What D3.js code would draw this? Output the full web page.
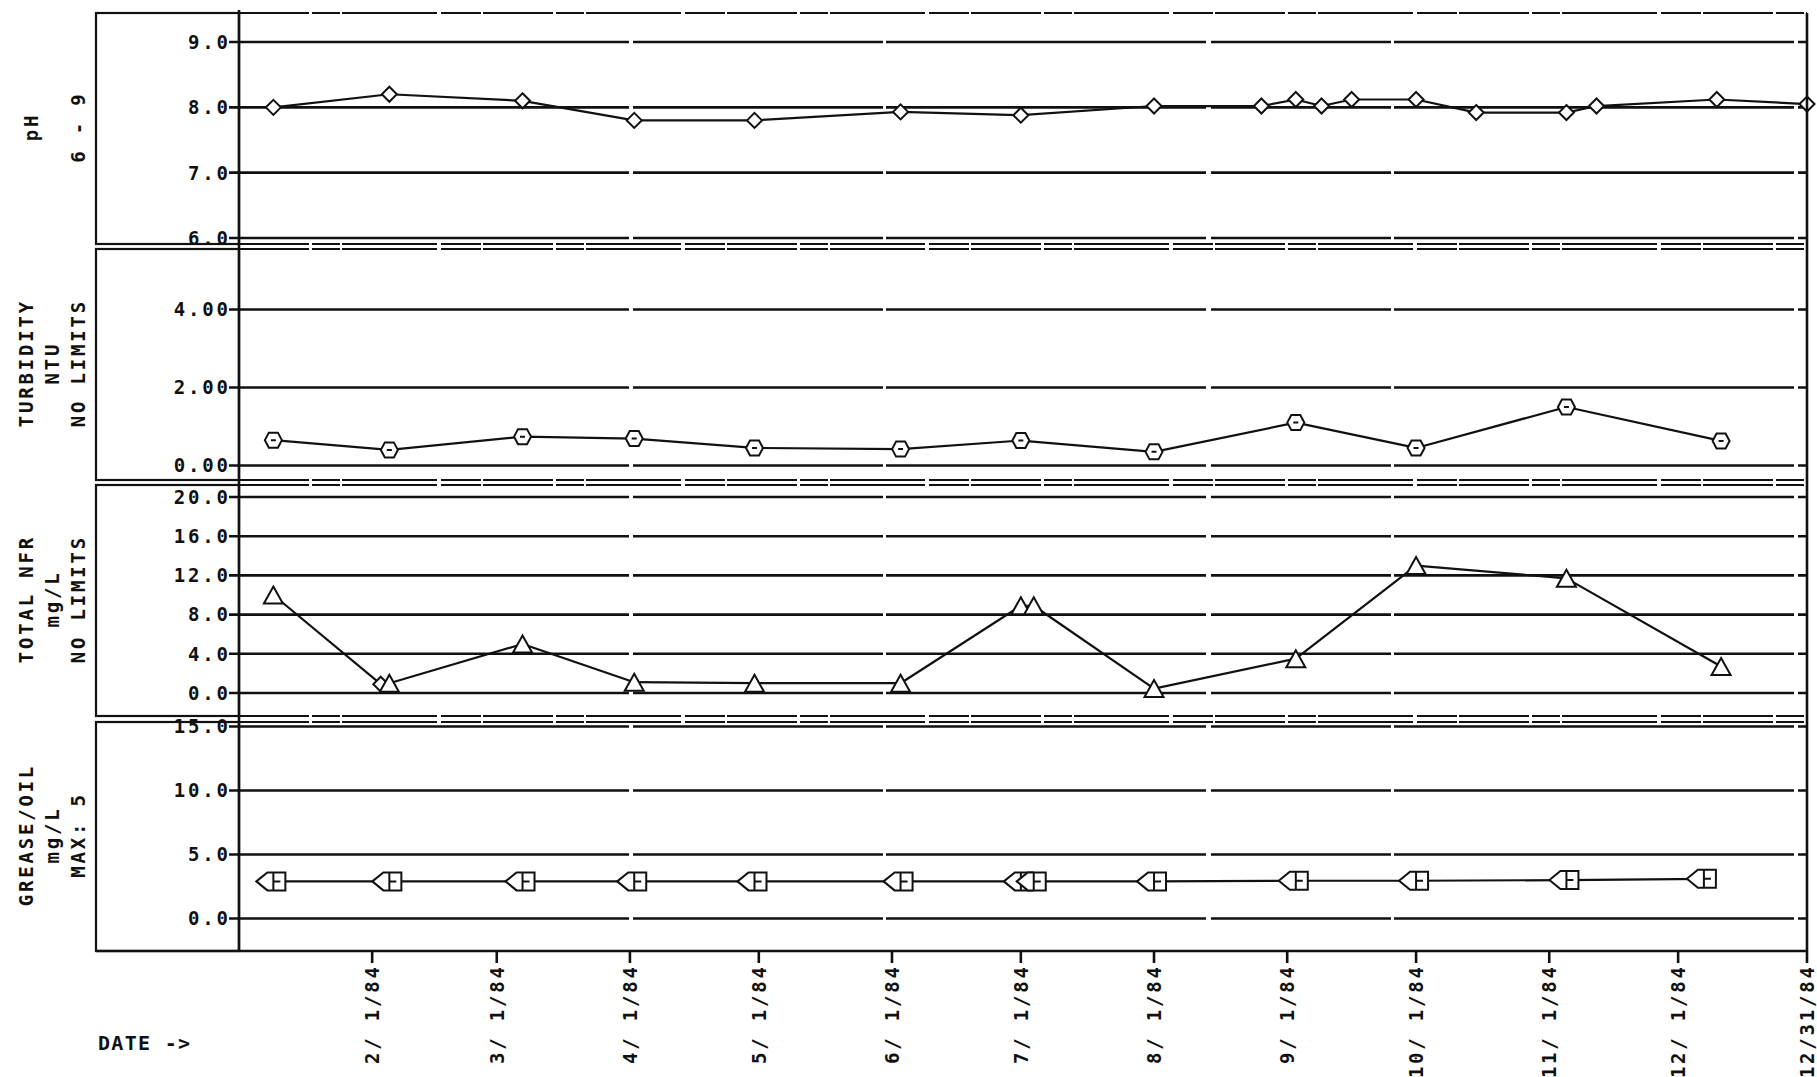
<!DOCTYPE html>
<html>
<head>
<meta charset="utf-8">
<script src="https://cdn.jsdelivr.net/npm/d3@7"></script>
<style>
  html, body { margin: 0; padding: 0; background: #fff; }
  svg { display: block; }
  text { font-family: "DejaVu Sans Mono", "Liberation Mono", monospace; font-weight: bold; fill: #111; }
</style>
</head>
<body>
<svg id="chart" width="1817" height="1077"></svg>
<script>
// ---------------- DATA ----------------
const phDates = ["1984-01-09","1984-02-05","1984-03-07","1984-04-02","1984-04-30","1984-06-03","1984-07-01","1984-08-01","1984-08-26","1984-09-03","1984-09-09","1984-09-16","1984-10-01","1984-10-15","1984-11-05","1984-11-12","1984-12-10","1984-12-31"];
const phValues = [8.0, 8.2, 8.1, 7.8, 7.8, 7.93, 7.88, 8.02, 8.02, 8.12, 8.02, 8.12, 8.12, 7.92, 7.92, 8.02, 8.12, 8.05];

const turbDates = ["1984-01-09","1984-02-05","1984-03-07","1984-04-02","1984-04-30","1984-06-03","1984-07-01","1984-08-01","1984-09-03","1984-10-01","1984-11-05","1984-12-11"];
const turbValues = [0.65, 0.40, 0.74, 0.69, 0.45, 0.42, 0.64, 0.35, 1.10, 0.45, 1.50, 0.63];

const nfrDates = ["1984-01-09","1984-02-03","1984-02-05","1984-03-07","1984-04-02","1984-04-30","1984-06-03","1984-07-01","1984-07-04","1984-08-01","1984-09-03","1984-10-01","1984-11-05","1984-12-11"];
const nfrValues = [10.0, 0.9, 1.0, 5.0, 1.1, 1.0, 1.0, 8.9, 8.9, 0.45, 3.5, 13.0, 11.7, 2.7];
const nfrSymbols = ["tri","dia","tri","tri","tri","tri","tri","tri","tri","tri","tri","tri","tri","tri"];

const greaseDates = ["1984-01-09","1984-02-05","1984-03-07","1984-04-02","1984-04-30","1984-06-03","1984-07-01","1984-07-04","1984-08-01","1984-09-03","1984-10-01","1984-11-05","1984-12-07"];
const greaseValues = [2.9, 2.9, 2.9, 2.9, 2.9, 2.9, 2.9, 2.9, 2.9, 2.95, 2.95, 3.0, 3.1];

const phTicks = [6, 7, 8, 9];
const phTickLabels = ["6.0", "7.0", "8.0", "9.0"];
const turbTicks = [0, 2, 4];
const turbTickLabels = ["0.00", "2.00", "4.00"];
const nfrTicks = [0, 4, 8, 12, 16, 20];
const nfrTickLabels = ["0.0", "4.0", "8.0", "12.0", "16.0", "20.0"];
const greaseTicks = [0, 5, 10, 15];
const greaseTickLabels = ["0.0", "5.0", "10.0", "15.0"];

const xTickDates = ["1984-02-01","1984-03-01","1984-04-01","1984-05-01","1984-06-01","1984-07-01","1984-08-01","1984-09-01","1984-10-01","1984-11-01","1984-12-01","1984-12-31"];
const xTickLabels = ["2/ 1/84","3/ 1/84","4/ 1/84","5/ 1/84","6/ 1/84","7/ 1/84","8/ 1/84","9/ 1/84","10/ 1/84","11/ 1/84","12/ 1/84","12/31/84"];

const phTitle = ["pH", "", "6 - 9"];
const turbTitle = ["TURBIDITY", "NTU", "NO LIMITS"];
const nfrTitle = ["TOTAL NFR", "mg/L", "NO LIMITS"];
const greaseTitle = ["GREASE/OIL", "mg/L", "MAX: 5"];
const xAxisTitle = "DATE ->";

// ---------------- LAYOUT ----------------
const parse = d3.timeParse("%Y-%m-%d");
const boxLeft = 96, plotLeft = 239, plotRight = 1807, plotBottom = 951;
const FS = 19, LS = 2.8; // font size, letter spacing

const x = d3.scaleTime()
  .domain([new Date(1984, 0, 1), new Date(1984, 11, 31)])
  .range([plotLeft, plotRight]);

const panels = [
  { top: 13,  bottom: 244, domain: [6, 9],  range: [238, 42],      ticks: phTicks,     labels: phTickLabels,     title: phTitle,
    titleX: [31, 52, 78], dates: phDates, values: phValues, sym: () => "dia" },
  { top: 249, bottom: 480, domain: [0, 4],  range: [465.5, 309.5], ticks: turbTicks,   labels: turbTickLabels,   title: turbTitle,
    titleX: [26, 52, 78], dates: turbDates, values: turbValues, sym: () => "hex" },
  { top: 485, bottom: 716, domain: [0, 20], range: [693, 497],     ticks: nfrTicks,    labels: nfrTickLabels,    title: nfrTitle,
    titleX: [26, 52, 78], dates: nfrDates, values: nfrValues, sym: (i) => nfrSymbols[i] },
  { top: 722, bottom: 951, domain: [0, 15], range: [918.5, 726.5], ticks: greaseTicks, labels: greaseTickLabels, title: greaseTitle,
    titleX: [26, 52, 78], dates: greaseDates, values: greaseValues, sym: () => "grease" }
];

const symbolPaths = {
  dia: "M0,-7.5L7.5,0L0,7.5L-7.5,0Z",
  hex: "M-8.5,0L-4.5,-7.5L4.5,-7.5L8.5,0L4.5,7.5L-4.5,7.5Z M-2.5,0H2.5",
  tri: "M0,-8.5L9.5,8.5L-9.5,8.5Z",
  grease: "M-17,0L-6,-9L12,-9L12,9L-6,9Z M0,-9V9 M0,0H7"
};

const svg = d3.select("#chart");
const g = svg.append("g");

panels.forEach((p) => {
  const y = d3.scaleLinear().domain(p.domain).range(p.range);

  // label box (left)
  g.append("rect")
    .attr("x", boxLeft).attr("y", p.top)
    .attr("width", plotLeft - boxLeft).attr("height", p.bottom - p.top)
    .attr("fill", "none").attr("stroke", "#111").attr("stroke-width", 2.2);

  // panel frame lines across plot (dashed, scanned look)
  [p.top, p.bottom].forEach((yy) => {
    g.append("line")
      .attr("x1", plotLeft).attr("x2", plotRight)
      .attr("y1", yy).attr("y2", yy)
      .attr("stroke", "#111").attr("stroke-width", 1.8)
      .attr("stroke-dasharray", "70,3,28,2,95,4,40,2");
  });

  // gridlines + tick dashes
  g.append("g").selectAll("line").data(p.ticks).join("line")
    .attr("x1", plotLeft - 10).attr("x2", plotRight)
    .attr("y1", (d) => y(d)).attr("y2", (d) => y(d))
    .attr("stroke", "#111").attr("stroke-width", 2.6)
    .attr("stroke-dasharray", "400,4,250,3,320,5,180,3");

  // tick labels
  g.append("g").selectAll("text").data(p.ticks).join("text")
    .attr("x", plotLeft - 11 + LS)
    .attr("y", (d) => y(d))
    .attr("dy", "0.36em")
    .attr("text-anchor", "end")
    .attr("font-size", FS)
    .attr("letter-spacing", LS)
    .text((d, i) => p.labels[i]);

  // panel titles (rotated)
  const cy = (p.top + p.bottom) / 2;
  p.title.forEach((t, i) => {
    if (!t) return;
    g.append("text")
      .attr("transform", `translate(${p.titleX[i]},${cy}) rotate(-90)`)
      .attr("text-anchor", "middle")
      .attr("dominant-baseline", "central")
      .attr("font-size", FS)
      .attr("letter-spacing", LS)
      .attr("dx", LS / 2)
      .style("white-space", "pre")
      .text(t);
  });

  // data
  const pts = p.dates.map((d, i) => ({ date: parse(d), v: p.values[i], s: p.sym(i) }));
  const line = d3.line().x((d) => x(d.date)).y((d) => y(d.v));
  g.append("path").datum(pts)
    .attr("d", line)
    .attr("fill", "none").attr("stroke", "#111").attr("stroke-width", 2.2)
    .attr("stroke-linejoin", "round");

  g.append("g").selectAll("path").data(pts).join("path")
    .attr("transform", (d) => `translate(${x(d.date)},${y(d.v)})`)
    .attr("d", (d) => symbolPaths[d.s])
    .attr("fill", "#fff").attr("stroke", "#111").attr("stroke-width", 2)
    .attr("stroke-linejoin", "miter");
});

// vertical borders
g.append("line").attr("x1", plotLeft).attr("x2", plotLeft).attr("y1", 10).attr("y2", plotBottom)
  .attr("stroke", "#111").attr("stroke-width", 2.6);
g.append("line").attr("x1", plotRight).attr("x2", plotRight).attr("y1", 13).attr("y2", plotBottom)
  .attr("stroke", "#111").attr("stroke-width", 2.6);
g.append("line").attr("x1", boxLeft).attr("x2", plotRight).attr("y1", plotBottom).attr("y2", plotBottom)
  .attr("stroke", "#111").attr("stroke-width", 2.4);

// x axis ticks & labels
const xt = xTickDates.map((d, i) => ({ date: parse(d), label: xTickLabels[i] }));
g.append("g").selectAll("line").data(xt).join("line")
  .attr("x1", (d) => x(d.date)).attr("x2", (d) => x(d.date))
  .attr("y1", plotBottom).attr("y2", plotBottom + 12)
  .attr("stroke", "#111").attr("stroke-width", 2.6);

g.append("g").selectAll("text").data(xt).join("text")
  .attr("transform", (d) => `translate(${x(d.date)},${plotBottom + 16 - LS}) rotate(-90)`)
  .attr("text-anchor", "end")
  .attr("dominant-baseline", "central")
  .attr("font-size", FS)
  .attr("letter-spacing", LS)
  .style("white-space", "pre")
  .text((d) => d.label);

g.append("text")
  .attr("x", 98).attr("y", 1043)
  .attr("dominant-baseline", "central")
  .attr("font-size", 20)
  .attr("letter-spacing", 1.3)
  .style("white-space", "pre")
  .text(xAxisTitle);
</script>
</body>
</html>
